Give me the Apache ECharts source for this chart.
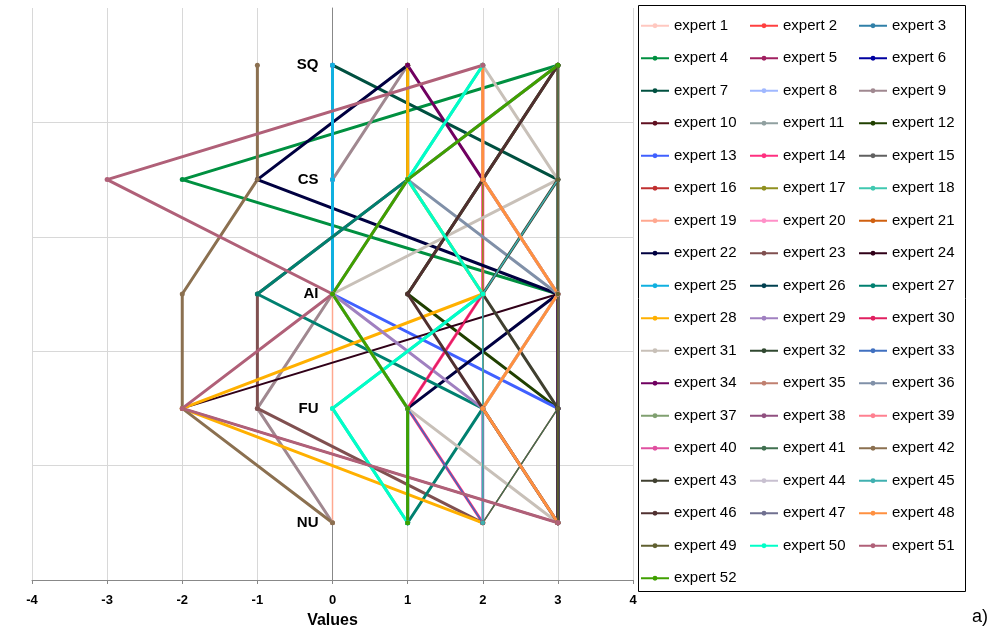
<!DOCTYPE html>
<html>
<head>
<meta charset="utf-8">
<script src="https://cdn.jsdelivr.net/npm/echarts@6/dist/echarts.min.js"></script>
<style>
html,body{margin:0;padding:0;background:#fff;}
#chart{width:1005px;height:634px;}
</style>
</head>
<body>
<div id="chart"></div>
<script>
// Descriptors (top to bottom) and their vertical positions
const descriptors = ['SQ', 'CS', 'AI', 'FU', 'NU'];
const descriptorY = [4.5, 3.5, 2.5, 1.5, 0.5];
const xTicks = [-4, -3, -2, -1, 0, 1, 2, 3, 4];

// Values of each expert for [SQ, CS, AI, FU, NU]
const expertValues = [
  [3, 3, 3, 3, 3],    // 1
  [3, 3, 3, 3, 3],    // 2
  [3, 3, 2, 2, 2],    // 3
  [3, -2, 3, 3, 3],   // 4
  [2, 2, 2, 2, 2],    // 5
  [3, 3, 3, 3, 3],    // 6
  [0, 3, 3, 3, 3],    // 7
  [3, 3, 3, 3, 3],    // 8
  [1, 0, 0, -1, 0],   // 9
  [3, 3, 3, 3, 3],    // 10
  [3, 3, 3, 3, 3],    // 11
  [3, 2, 1, 3, 3],    // 12
  [0, 0, 0, 3, 3],    // 13
  [2, 2, 2, 1, 2],    // 14
  [3, 3, 3, 3, 3],    // 15
  [3, 3, 3, 3, 2],    // 16
  [2, 2, 2, 2, 2],    // 17
  [2, 1, 2, 0, 1],    // 18
  [0, 0, 0, 0, 0],    // 19
  [3, 3, 3, 3, 3],    // 20
  [2, 2, 3, 2, 3],    // 21
  [1, -1, 3, 1, 1],   // 22
  [1, 1, -1, -1, 2],  // 23
  [3, 3, 3, -2, 3],   // 24
  [0, 0, 0, 1, 1],    // 25
  [3, 3, 3, 3, 3],    // 26
  [1, 1, -1, 2, 1],   // 27
  [1, 1, 2, -2, 2],   // 28
  [3, 1, 0, 2, 2],    // 29
  [3, 1, 2, 1, 2],    // 30
  [2, 3, 0, 1, 3],    // 31
  [3, 3, 3, 3, 3],    // 32
  [3, 1, 0, 1, 2],    // 33
  [1, 2, 3, 3, 3],    // 34
  [3, 3, 3, 3, 3],    // 35
  [3, 1, 3, 2, 3],    // 36
  [3, 3, 3, 3, 3],    // 37
  [2, 2, 3, 2, 2],    // 38
  [3, 3, 3, 3, 3],    // 39
  [3, 3, 3, 3, 3],    // 40
  [3, 3, 3, 3, 2],    // 41
  [-1, -1, -2, -2, 0],// 42
  [3, 3, 2, 3, 3],    // 43
  [2, 2, 3, 2, 3],    // 44
  [3, 3, 2, 2, 2],    // 45
  [3, 2, 1, 2, 3],    // 46
  [2, 2, 3, 2, 3],    // 47
  [2, 2, 3, 2, 3],    // 48
  [3, 3, 3, 3, 3],    // 49
  [2, 1, 2, 0, 1],    // 50
  [2, -3, 0, -2, 3],  // 51
  [3, 1, 0, 1, 1]     // 52
];
const expertNames = expertValues.map((v, i) => 'expert ' + (i + 1));

// Styles
const expertColors = [
  '#ffc8c0', '#ff4040', '#3080a8', '#009040', '#a02060', '#0000a0',
  '#005040', '#a0b8ff', '#a08890', '#601020', '#90a0a0', '#204000',
  '#4060ff', '#ff3080', '#606060', '#c03030', '#909020', '#40c8b0',
  '#ffa890', '#ff90c8', '#d06010', '#000040', '#805050', '#300018',
  '#10b0e0', '#004050', '#008070', '#ffb000', '#a080c0', '#e02060',
  '#c8c0b8', '#304830', '#4070c0', '#700060', '#c08070', '#8090a8',
  '#80a070', '#905080', '#ff8090', '#e050a0', '#407050', '#8b7050',
  '#404030', '#c8c0d0', '#40b0b0', '#503030', '#707090', '#ff9040',
  '#606030', '#00ffc8', '#b06078', '#40a000'
];
const thickExperts = [1, 4, 7, 9, 12, 13, 14, 18, 22, 23, 25, 27, 28, 29, 31, 34, 36, 42, 43, 44, 46, 48, 50, 51, 52];
const FONT = 'Liberation Sans, Arial, sans-serif';

const chart = echarts.init(document.getElementById('chart'), null, {renderer: 'canvas'});

const series = expertValues.map((vals, i) => {
  const thick = thickExperts.indexOf(i + 1) >= 0;
  return {
    name: expertNames[i],
    type: 'line',
    data: vals.map((v, j) => [v, descriptorY[j]]),
    symbol: 'circle',
    symbolSize: thick ? 5 : 4.5,
    showSymbol: true,
    lineStyle: {color: expertColors[i], width: thick ? 3 : (i + 1 === 24 ? 2 : 1.5)},
    itemStyle: {color: expertColors[i]},
    emphasis: {disabled: true},
    animation: false,
    z: 2
  };
});

series.push({
  name: 'descriptorLabels',
  type: 'custom',
  data: descriptors.map((d, i) => [0, descriptorY[i]]),
  renderItem: function (params, api) {
    const p = api.coord([api.value(0), api.value(1)]);
    return {
      type: 'text',
      x: p[0] - 14,
      y: p[1],
      style: {
        text: descriptors[params.dataIndex],
        fill: '#000',
        font: 'bold 15px ' + FONT,
        align: 'right',
        verticalAlign: 'middle'
      }
    };
  },
  silent: true,
  animation: false,
  z: 5
});

function legendCol(start, left) {
  const names = [];
  for (let i = start; i < expertNames.length; i += 3) names.push(expertNames[i]);
  return {
    data: names,
    orient: 'vertical',
    left: left,
    top: 17,
    padding: 0,
    itemWidth: 28,
    itemHeight: 6,
    itemGap: 15,
    textStyle: {fontFamily: FONT, fontSize: 15, color: '#000', lineHeight: 17.5},
    selectedMode: false
  };
}

chart.setOption({
  backgroundColor: '#fff',
  animation: false,
  grid: {left: 32, right: 372, top: 8, bottom: 54, outerBoundsMode: 'none', containLabel: false},
  xAxis: {
    type: 'value', min: -4, max: 4, interval: 1,
    name: 'Values', nameLocation: 'middle', nameGap: 33,
    nameTextStyle: {fontFamily: FONT, fontWeight: 'bold', fontSize: 16, color: '#000'},
    axisLine: {show: true, lineStyle: {color: '#888', width: 1}},
    axisTick: {show: true, length: 4, lineStyle: {color: '#888'}},
    axisLabel: {
      fontFamily: FONT, fontWeight: 'bold', fontSize: 13, color: '#000', margin: 14,
      formatter: v => (xTicks.indexOf(v) >= 0 ? String(v) : '')
    },
    splitLine: {show: true, lineStyle: {color: '#d8d8d8', width: 1}}
  },
  yAxis: {
    type: 'value', min: 0, max: 5, interval: 1,
    name: 'Descriptors', nameLocation: 'middle', nameRotate: 90, nameGap: 314,
    nameTextStyle: {fontFamily: FONT, fontWeight: 'bold', fontSize: 16, color: '#000'},
    axisLine: {show: true, onZero: true, lineStyle: {color: '#888', width: 1}},
    axisTick: {show: false},
    axisLabel: {show: false},
    splitLine: {show: true, showMaxLine: false, lineStyle: {color: '#d8d8d8', width: 1}}
  },
  legend: [legendCol(0, 640), legendCol(1, 749), legendCol(2, 858)],
  graphic: [
    {type: 'rect', shape: {x: 638.5, y: 5.5, width: 327, height: 586}, style: {fill: 'none', stroke: '#000', lineWidth: 1}, z: 0},
    {type: 'text', left: 972, top: 608, style: {text: 'a)', font: '18px ' + FONT, fill: '#000'}}
  ],
  series: series
});
</script>
</body>
</html>
